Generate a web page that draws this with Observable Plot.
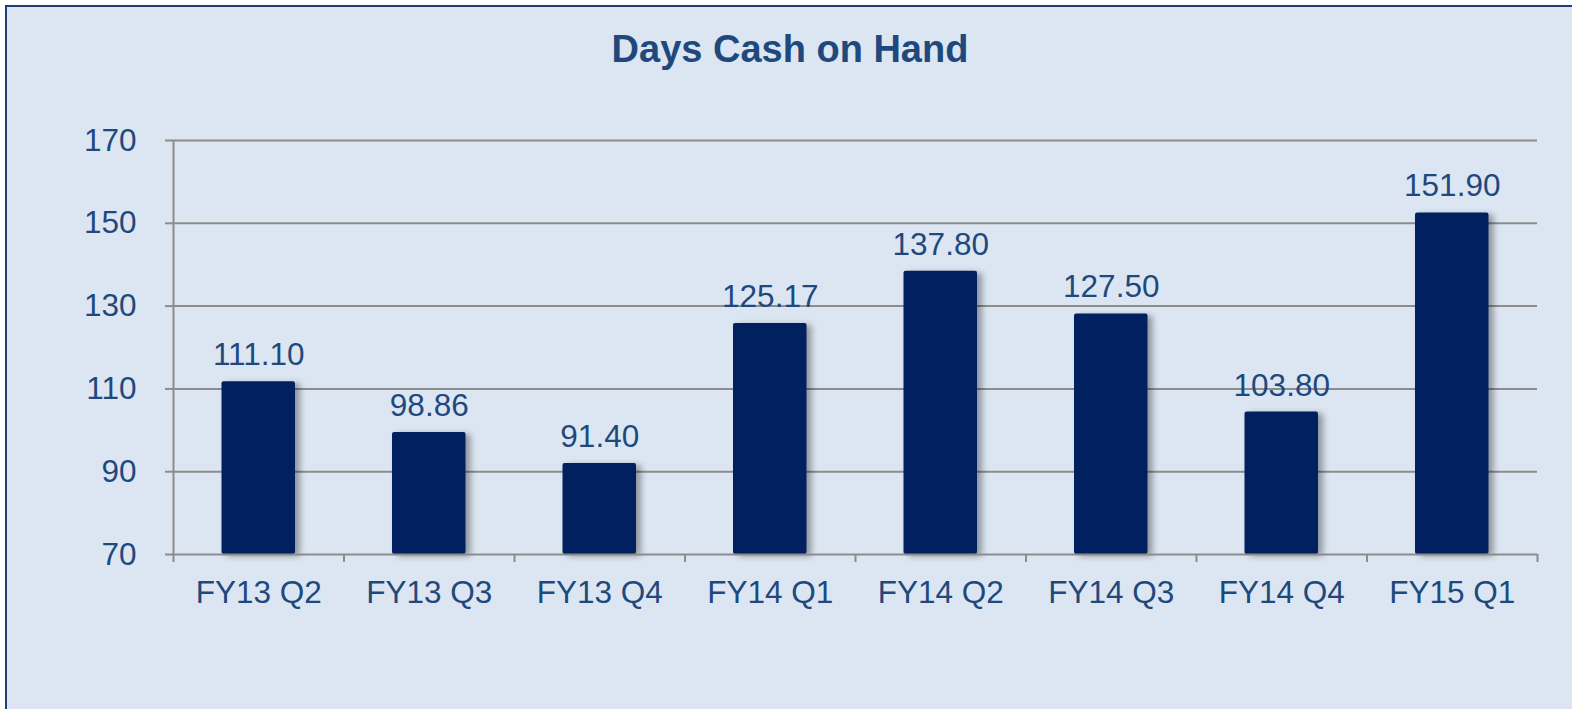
<!DOCTYPE html>
<html><head><meta charset="utf-8">
<script src="https://cdn.jsdelivr.net/npm/d3@7"></script>
<script src="https://cdn.jsdelivr.net/npm/@observablehq/plot@0.6"></script>
<style>
html,body{margin:0;padding:0;background:#ffffff;overflow:hidden;width:1572px;height:709px;}
#frame{position:absolute;left:5px;top:5px;width:1600px;height:800px;border:2.5px solid #1f3d7a;background:#dce6f2;}
#chart{position:absolute;left:0;top:0;width:1572px;}
#title{height:90px;box-sizing:border-box;padding-top:30px;padding-left:8px;text-align:center;font:bold 38px/38px "Liberation Sans",Arial,sans-serif;color:#1f497d;}
</style></head><body>
<div id="frame"></div>
<div id="chart"><div id="title">Days Cash on Hand</div></div>
<script>
const categories = ["FY13 Q2", "FY13 Q3", "FY13 Q4", "FY14 Q1", "FY14 Q2", "FY14 Q3", "FY14 Q4", "FY15 Q1"];
const values = [111.10, 98.86, 91.40, 125.17, 137.80, 127.50, 103.80, 151.90];
const yTicks = [70, 90, 110, 130, 150, 170];

const textColor = "#1f497d";
const gridColor = "#8c8c8c";
const barColor = "#002060";
const yMin = yTicks[0], yMax = yTicks[yTicks.length - 1];

const data = categories.map((c, i) => ({cat: c, i, v: values[i]}));
const boundaries = d3.range(categories.length + 1);
const centers = categories.map((c, i) => i + 0.5);

const plot = Plot.plot({
  width: 1572,
  height: 619,
  marginTop: 50,
  marginBottom: 155,
  marginLeft: 173,
  marginRight: 35,
  style: {background: "transparent", fontFamily: "'Liberation Sans', Arial, sans-serif", color: textColor, overflow: "visible"},
  x: {type: "linear", domain: [0, categories.length]},
  y: {domain: [yMin, yMax]},
  marks: [
    Plot.ruleY(yTicks.slice(1), {stroke: gridColor, strokeWidth: 2}),
    Plot.rect(data, {
      x1: "i", x2: d => d.i + 1, y1: () => yMin, y2: "v",
      insetLeft: 48.5, insetRight: 48.5, insetTop: -2.5,
      fill: barColor, rx: 2
    }),
    Plot.ruleY([yMin], {stroke: gridColor, strokeWidth: 2}),
    Plot.ruleX([0], {y1: yMin, y2: yMax, stroke: gridColor, strokeWidth: 2}),
    Plot.axisY({ticks: yTicks, tickSize: 8, tickPadding: 29, stroke: gridColor, strokeWidth: 2, fill: textColor, fontSize: 31.5, label: null}),
    Plot.axisX({ticks: boundaries, tickSize: 8, stroke: gridColor, strokeWidth: 2, fill: "none", label: null}),
    Plot.axisX({ticks: centers, tickSize: 0, tickPadding: 26, fill: textColor, fontSize: 31.5, label: null,
      tickFormat: d => categories[Math.floor(d)]}),
    Plot.text(data, {x: d => d.i + 0.5, y: "v", text: d => d.v.toFixed(2), lineAnchor: "bottom", dy: -19, fontSize: 31.5, fill: textColor})
  ]
});
d3.select(plot).selectAll('g[aria-label="rect"] rect')
  .style("filter", "drop-shadow(5px 2px 3px rgba(0,0,0,0.35))");
document.getElementById("chart").appendChild(plot);
</script>
</body></html>
